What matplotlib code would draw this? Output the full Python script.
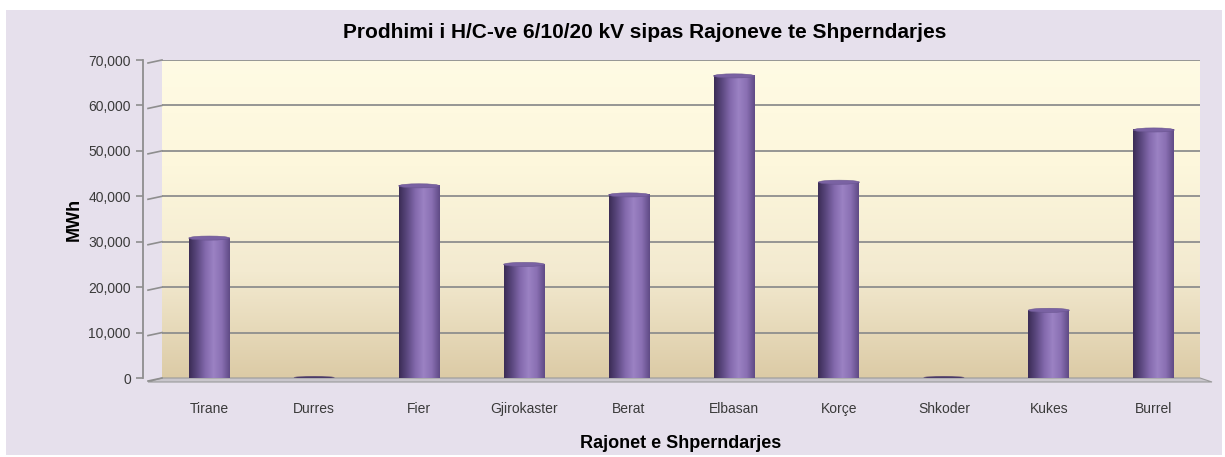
import numpy as np
import matplotlib
matplotlib.use("Agg")
import matplotlib.pyplot as plt
from matplotlib.patches import Rectangle, Ellipse, Polygon
from matplotlib.colors import LinearSegmentedColormap
from matplotlib.ticker import FuncFormatter

plt.rcParams['font.family'] = ['Liberation Sans', 'DejaVu Sans']

regions = ["Tirane", "Durres", "Fier", "Gjirokaster", "Berat",
           "Elbasan", "Korçe", "Shkoder", "Kukes", "Burrel"]
mwh = [30800, 0, 42300, 25000, 40300, 66500, 43100, 0, 14900, 54600]
yticks = [0, 10000, 20000, 30000, 40000, 50000, 60000, 70000]

title = "Prodhimi i H/C-ve 6/10/20 kV sipas Rajoneve te Shperndarjes"

W, H = 1225, 457
fig = plt.figure(figsize=(W / 100, H / 100), dpi=100)
fig.patch.set_facecolor("white")
fig.patches.append(Rectangle((6 / W, 2 / H), 1216 / W, 445 / H,
                             transform=fig.transFigure, facecolor="#e6e0ec",
                             edgecolor="none", zorder=-10))

# plot wall in pixels: x 162..1200, y 60..378
ax = fig.add_axes([162 / W, (H - 378) / H, 1038 / W, 318 / H])
ax.set_facecolor("none")

# wall gradient
wall = LinearSegmentedColormap.from_list("wall", ["#dccba6", "#f3ead0", "#fdf7dc", "#fffbe4"])
grad = np.linspace(0, 1, 256).reshape(-1, 1)
ax.imshow(grad, cmap=wall, origin="lower", extent=[0, 1, 0, 1], transform=ax.transAxes,
          aspect="auto", zorder=0)

for t in yticks[1:]:
    ax.axhline(t, color="#8e8e8e", lw=1.3, zorder=1)

# cylinder bars
w = 0.39
cyl = LinearSegmentedColormap.from_list("cyl", ["#3b2c55", "#5c4880", "#8369ad", "#9b82c3", "#8a70b3", "#5f4a85"])
hgrad = np.linspace(0, 1, 256).reshape(1, -1)
cap_h = 900
for i, v in enumerate(mwh):
    if v > 0:
        ax.imshow(hgrad, cmap=cyl, extent=[i - w / 2, i + w / 2, 0, v], aspect="auto", zorder=3)
        ax.add_patch(Ellipse((i, v), w, cap_h, facecolor="#7a62a3", edgecolor="#6a5590", lw=0.4, zorder=4))
    else:
        ax.add_patch(Ellipse((i, 150), w, 500, facecolor="#4a3a68", edgecolor="none", zorder=4))

ax.set_xlim(-0.45, 9.44)
ax.set_ylim(0, 70000)

# floor
ax.add_patch(Polygon([(0, 0), (1, 0), (1 + 12 / 1038, -4 / 318), (-14 / 1038, -4 / 318)],
                     closed=True, transform=ax.transAxes, facecolor="#c9c6cc",
                     edgecolor="#9a9a9a", lw=0.8, clip_on=False, zorder=2))
# tick connectors to the wall
for t in yticks:
    yy = t / 70000
    ax.plot([-14 / 1038, 0], [yy - 3 / 318, yy], transform=ax.transAxes,
            color="#8e8e8e", lw=1.2, clip_on=False, zorder=2)

for s in ["top", "right", "bottom"]:
    ax.spines[s].set_visible(False)
ax.spines["left"].set_position(("outward", 14))
ax.spines["left"].set_color("#8e8e8e")
ax.spines["left"].set_linewidth(1.3)

ax.set_yticks(yticks)
ax.yaxis.set_major_formatter(FuncFormatter(lambda v, p: f"{int(v):,}"))
ax.tick_params(axis="y", colors="#8e8e8e", labelcolor="#3a3a3a", labelsize=10, length=5, width=1.2)
ax.set_xticks(range(len(regions)))
ax.set_xticklabels(regions)
ax.tick_params(axis="x", length=0, labelsize=10, labelcolor="#3a3a3a", pad=17)

ax.set_ylabel("MWh", fontsize=13, fontweight="bold", labelpad=4)
ax.set_xlabel("Rajonet e Shperndarjes", fontsize=13, fontweight="bold", labelpad=14)
fig.text(645 / W, 1 - 33 / H, title, ha="center", va="center", fontsize=15, fontweight="bold")

fig.savefig("out.png", dpi=100)
